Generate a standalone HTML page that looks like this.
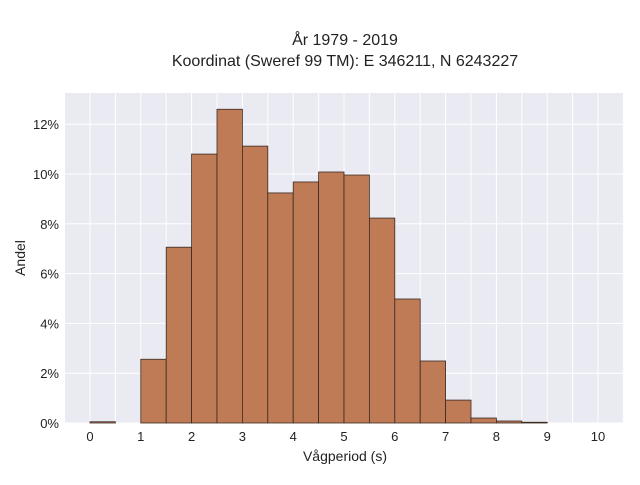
<!DOCTYPE html>
<html><head><meta charset="utf-8"><style>
body{margin:0;background:#fff;font-family:"Liberation Sans",sans-serif}
svg text{font-family:"Liberation Sans",sans-serif;fill:#222}
</style></head><body>
<svg id="chart" width="640" height="480">
<text x="345" y="45" text-anchor="middle" font-size="16">År 1979 - 2019</text>
<text x="345" y="66" text-anchor="middle" font-size="16">Koordinat (Sweref 99 TM): E 346211, N 6243227</text>
<rect x="65" y="93" width="559" height="330" fill="#eaeaf2"/>
<g id="grid"></g>
<g id="bars"></g>
<g id="axes"></g>
<text x="345" y="461" text-anchor="middle" font-size="14">Vågperiod (s)</text>
<text transform="translate(25,258) rotate(-90)" text-anchor="middle" font-size="14">Andel</text>
</svg>
<script>
const binStarts=[0,0.5,1,1.5,2,2.5,3,3.5,4,4.5,5,5.5,6,6.5,7,7.5,8,8.5];
const shares=[0.05,0,2.56,7.06,10.8,12.6,11.12,9.24,9.68,10.08,9.96,8.23,4.98,2.49,0.92,0.2,0.08,0.03];
const binWidth=0.5;
const xTicks=[0,1,2,3,4,5,6,7,8,9,10];
const yTicks=[0,2,4,6,8,10,12];
const NS='http://www.w3.org/2000/svg';
const x=v=>90+v*50.8;
const y=v=>423-v*24.9;
const grid=document.getElementById('grid'),bars=document.getElementById('bars'),axes=document.getElementById('axes');
for(let v=-0.5;v<=10.5;v+=0.5){const px=x(v);if(px<65||px>624)continue;
const l=document.createElementNS(NS,'line');


l.setAttribute('x1',px);l.setAttribute('x2',px);l.setAttribute('y1',93);l.setAttribute('y2',423);l.setAttribute('stroke','#fff');l.setAttribute('stroke-width','1');grid.appendChild(l);}
yTicks.forEach(v=>{const l=document.createElementNS(NS,'line');


l.setAttribute('x1',65);l.setAttribute('x2',624);l.setAttribute('y1',y(v));l.setAttribute('y2',y(v));l.setAttribute('stroke','#fff');grid.appendChild(l);
const t=document.createElementNS(NS,'text');


t.setAttribute('x',59);t.setAttribute('y',y(v)+5);t.setAttribute('text-anchor','end');t.setAttribute('font-size','13');t.textContent=v+'%';axes.appendChild(t);});
xTicks.forEach(v=>{const t=document.createElementNS(NS,'text');


t.setAttribute('x',x(v));t.setAttribute('y',441);t.setAttribute('text-anchor','middle');t.setAttribute('font-size','13');t.textContent=v;axes.appendChild(t);});
binStarts.forEach((b,i)=>{const v=shares[i];if(v<=0)return;
const r=document.createElementNS(NS,'rect');


r.setAttribute('x',x(b));r.setAttribute('width',x(b+binWidth)-x(b));r.setAttribute('y',y(v));r.setAttribute('height',y(0)-y(v));
r.setAttribute('fill','#bf7a56');r.setAttribute('stroke','#3a2a22');r.setAttribute('stroke-width','0.8');bars.appendChild(r);});
</script>
</body></html>
